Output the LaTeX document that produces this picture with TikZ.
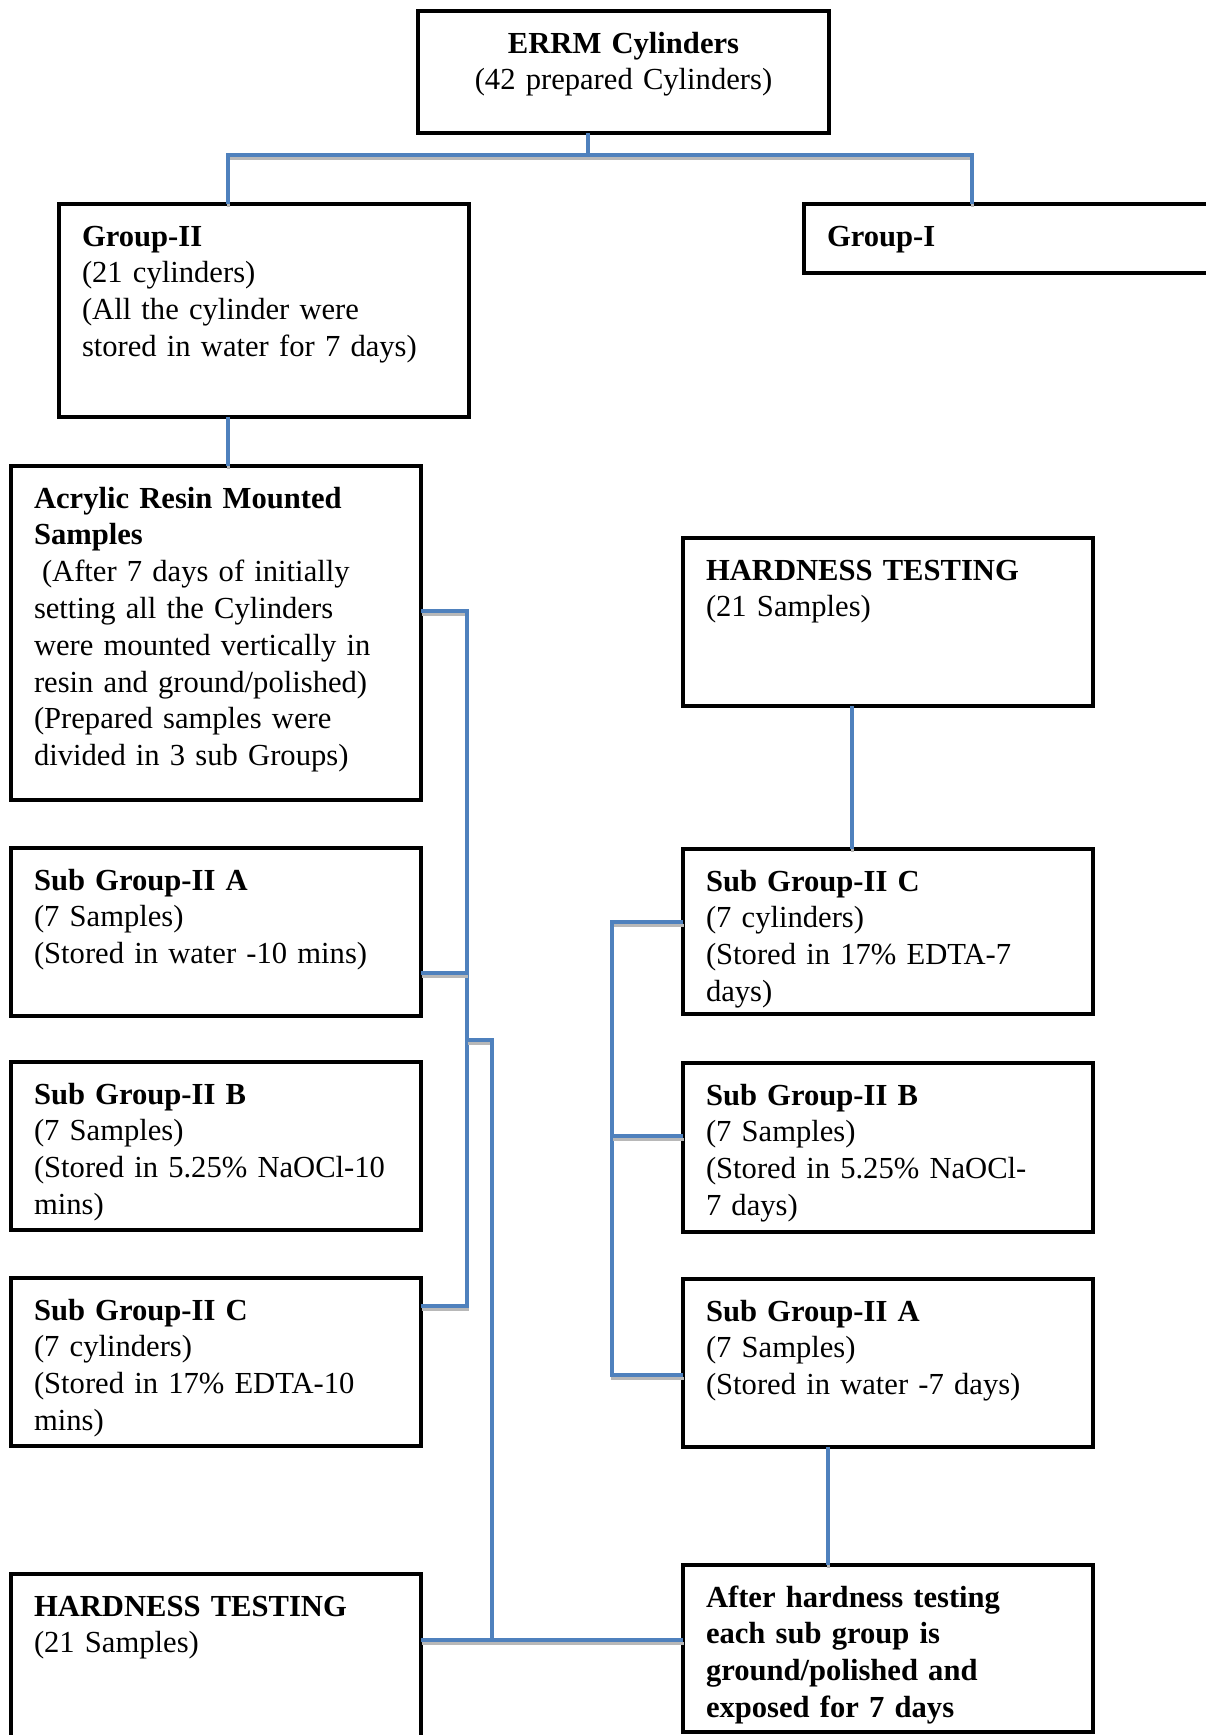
\documentclass[tikz,border=0pt]{standalone}
\usepackage{fontspec}
\setmainfont{Liberation Serif}
\usepackage{tikz}
\usetikzlibrary{positioning}
\definecolor{lineblue}{HTML}{4F81BD}
\newcommand{\bodyfont}{\fontsize{15.3pt}{18.4pt}\selectfont}
\tikzset{
  box/.style 2 args={draw,line width=2pt,anchor=north west,align=left,
    inner xsep=11.5pt,inner ysep=8pt,outer sep=0pt,
    text height=13pt,text width=#1,text depth=#2,font=\bodyfont},
  subbox/.style={box={182pt}{55pt}},
  conn/.style={draw=lineblue,line width=2.2pt,
    preaction={draw=black!28,line width=1.2pt,transform canvas={xshift=0.3pt,yshift=-1.7pt}}}
}

\begin{document}
\begin{tikzpicture}[x=0.5pt,y=-0.5pt]
  \useasboundingbox (0,0) rectangle (1205,1735);
  \node[box={182.5pt}{32pt},align=center] (errm) at (418,11) {\textbf{ERRM Cylinders}\\(42 prepared Cylinders)};
  \node[box={182pt}{77.5pt}] (g2) at (59,204) {\textbf{Group-II}\\(21 cylinders)\\(All the cylinder were\\stored in water for 7 days)};
  \node[box={190pt}{5.5pt}] (g1) at (804,204) {\textbf{Group-I}};
  \node[box={182pt}{138pt}] (acr) at (11,466) {\textbf{Acrylic Resin Mounted}\\\textbf{Samples}\\\hspace*{4pt}(After 7 days of initially\\setting all the Cylinders\\were mounted vertically in\\resin and ground/polished)\\(Prepared samples were\\divided in 3 sub Groups)};
  \node[subbox,below right=24pt and 0pt of acr.south west] (sla) {\textbf{Sub Group-II A}\\(7 Samples)\\(Stored in water -10 mins)};
  \node[subbox,below right=23pt and 0pt of sla.south west] (slb) {\textbf{Sub Group-II B}\\(7 Samples)\\(Stored in 5.25\% NaOCl-10\\mins)};
  \node[subbox,below right=24pt and 0pt of slb.south west] (slc) {\textbf{Sub Group-II C}\\(7 cylinders)\\(Stored in 17\% EDTA-10\\mins)};
  \node[box={182pt}{71pt},below right=64pt and 0pt of slc.south west] (htl) {\textbf{HARDNESS TESTING}\\(21 Samples)};
  \node[subbox] (htr) at (683,538) {\textbf{HARDNESS TESTING}\\(21 Samples)};
  \node[box={182pt}{53.5pt},below right=71.5pt and 0pt of htr.south west] (src) {\textbf{Sub Group-II C}\\(7 cylinders)\\(Stored in 17\% EDTA-7\\days)};
  \node[box={182pt}{55.5pt},below right=24.5pt and 0pt of src.south west] (srb) {\textbf{Sub Group-II B}\\(7 Samples)\\(Stored in 5.25\% NaOCl-\\7 days)};
  \node[subbox,below right=23.5pt and 0pt of srb.south west] (sra) {\textbf{Sub Group-II A}\\(7 Samples)\\(Stored in water -7 days)};
  \node[box={182pt}{54.5pt},below right=59pt and 0pt of sra.south west] (after) {\bfseries After hardness testing\\each sub group is\\ground/polished and\\exposed for 7 days};

  \coordinate (bar) at (600,155);
  \coordinate (brL) at (467,0);
  \coordinate (brR) at (612,0);
  \coordinate (j1) at (467,1040);
  \coordinate (j2) at (492,1639);

  \draw[conn] ([xshift=85pt]errm.south west) -- ([xshift=85pt]errm.south west |- bar);
  \draw[conn] ([xshift=84.5pt]g2.north west) |- (bar) -| ([xshift=84pt]g1.north west);
  \draw[conn] ([xshift=84.5pt]g2.south west) -- ([xshift=84.5pt]g2.south west |- acr.north);
  \draw[conn] ([yshift=-72.5pt]acr.north east) -| ([yshift=-14pt]slc.north east -| brL) -- ([yshift=-14pt]slc.north east);
  \draw[conn] ([yshift=-62.5pt]sla.north east) -- ([yshift=-62.5pt]sla.north east -| brL);
  \draw[conn] (j1) -| (j2);
  \draw[conn] ([yshift=-33pt]htl.north east) -- ([yshift=-33pt]htl.north east -| after.west);
  \draw[conn] ([xshift=84.5pt]htr.south west) -- ([xshift=84.5pt]htr.south west |- src.north);
  \draw[conn] ([yshift=-36.5pt]src.north west) -| ([yshift=-48pt]sra.north west -| brR) -- ([yshift=-48pt]sra.north west);
  \draw[conn] ([yshift=-36.5pt]srb.north west) -- ([yshift=-36.5pt]srb.north west -| brR);
  \draw[conn] ([xshift=72.5pt]sra.south west) -- ([xshift=72.5pt]sra.south west |- after.north);
\end{tikzpicture}
\end{document}
